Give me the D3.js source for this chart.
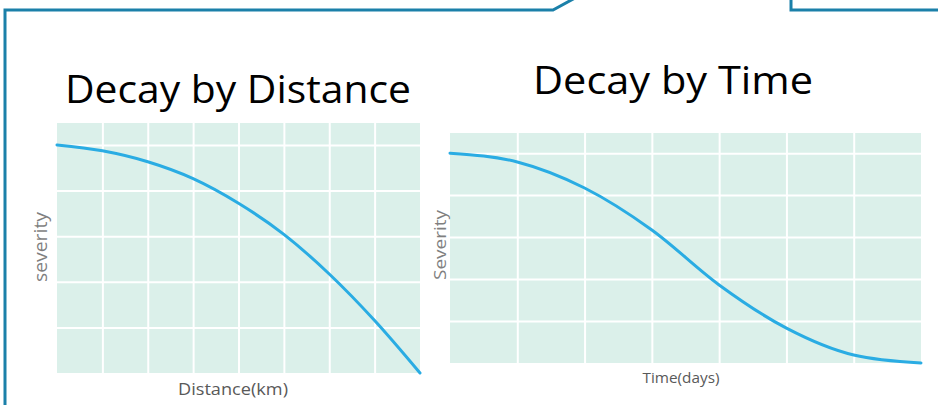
<!DOCTYPE html>
<html>
<head>
<meta charset="utf-8">
<script src="https://cdn.jsdelivr.net/npm/d3@7"></script>
<style>
  body { margin: 0; background: #fff; }
  svg { display: block; }
</style>
</head>
<body>
<script>
// distance panel: 8 grid columns, severity in grid-row units
const distanceX = [0, 1, 2, 3, 4, 5, 6, 7, 8];
const distanceSeverity = [5.0, 4.87, 4.63, 4.26, 3.72, 3.04, 2.17, 1.15, 0];

// time panel: 7 grid columns
const timeX = [0, 1, 2, 3, 4, 5, 6, 7];
const timeSeverity = [5.0, 4.79, 4.17, 3.17, 1.86, 0.83, 0.19, 0];

const titles = ['Decay by Distance', 'Decay by Time'];
const xLabels = ['Distance(km)', 'Time(days)'];
const yLabels = ['severity', 'Severity'];

const W = 938, H = 405;

const svg = d3.select('body').append('svg')
  .attr('width', W)
  .attr('height', H);

// callout frame
svg.append('path')
  .attr('d', 'M5,406 L5,10 L553,10 L575,-2 M791,-2 L791,10 L940,10')
  .attr('fill', 'none')
  .attr('stroke', '#1b80a9')
  .attr('stroke-width', 3);

const panels = [
  {
    xs: distanceX, ys: distanceSeverity,
    left: 57, right: 420, top: 123, bottom: 373, yMax: 5.48,
    title: titles[0], titleX: 238, titleY: 103, titleLen: 346,
    xLabel: xLabels[0], xLabelX: 233, xLabelY: 395, xLabelSize: 17, xLabelLen: 110,
    yLabel: yLabels[0], yLabelX: 47, yLabelY: 247, yLabelSize: 18, yLabelLen: 70
  },
  {
    xs: timeX, ys: timeSeverity,
    left: 450, right: 921, top: 133, bottom: 363, yMax: 5.48,
    title: titles[1], titleX: 673, titleY: 94, titleLen: 280,
    xLabel: xLabels[1], xLabelX: 681, xLabelY: 383, xLabelSize: 15, xLabelLen: 77,
    yLabel: yLabels[1], yLabelX: 446, yLabelY: 245, yLabelSize: 17, yLabelLen: 70
  }
];

panels.forEach(function(p) {
  const x = d3.scaleLinear()
    .domain([0, p.xs[p.xs.length - 1]])
    .range([p.left, p.right]);
  const y = d3.scaleLinear()
    .domain([0, p.yMax])
    .range([p.bottom, p.top]);

  const g = svg.append('g');

  g.append('rect')
    .attr('x', p.left)
    .attr('y', p.top)
    .attr('width', p.right - p.left)
    .attr('height', p.bottom - p.top)
    .attr('fill', '#dbf0ea');

  // white grid through the axes
  const nCols = p.xs[p.xs.length - 1];
  const xGrid = d3.axisBottom(x)
    .tickValues(d3.range(1, nCols))
    .tickSize(-(p.bottom - p.top))
    .tickFormat('');
  const yGrid = d3.axisLeft(y)
    .tickValues([1, 2, 3, 4, 5])
    .tickSize(-(p.right - p.left))
    .tickFormat('');

  g.append('g')
    .attr('transform', 'translate(0,' + p.bottom + ')')
    .call(xGrid)
    .call(function(a) { a.select('.domain').remove(); })
    .selectAll('line').attr('stroke', '#fff').attr('stroke-width', 2);

  g.append('g')
    .attr('transform', 'translate(' + p.left + ',0)')
    .call(yGrid)
    .call(function(a) { a.select('.domain').remove(); })
    .selectAll('line').attr('stroke', '#fff').attr('stroke-width', 2);

  const line = d3.line()
    .x(function(d, i) { return x(p.xs[i]); })
    .y(function(d) { return y(d); })
    .curve(d3.curveMonotoneX);

  g.append('path')
    .datum(p.ys)
    .attr('d', line)
    .attr('fill', 'none')
    .attr('stroke', '#2aace3')
    .attr('stroke-width', 3)
    .attr('stroke-linecap', 'round');

  g.append('text')
    .attr('x', p.titleX)
    .attr('y', p.titleY)
    .attr('text-anchor', 'middle')
    .attr('textLength', p.titleLen)
    .attr('lengthAdjust', 'spacingAndGlyphs')
    .style('font-family', 'Open Sans, sans-serif')
    .style('font-size', '38px')
    .attr('fill', '#000')
    .text(p.title);

  g.append('text')
    .attr('x', p.xLabelX)
    .attr('y', p.xLabelY)
    .attr('text-anchor', 'middle')
    .attr('textLength', p.xLabelLen)
    .attr('lengthAdjust', 'spacingAndGlyphs')
    .style('font-family', 'Open Sans, sans-serif')
    .style('font-size', p.xLabelSize + 'px')
    .attr('fill', '#595959')
    .text(p.xLabel);

  g.append('text')
    .attr('transform', 'translate(' + p.yLabelX + ',' + p.yLabelY + ') rotate(-90)')
    .attr('text-anchor', 'middle')
    .attr('textLength', p.yLabelLen)
    .attr('lengthAdjust', 'spacingAndGlyphs')
    .style('font-family', 'Open Sans, sans-serif')
    .style('font-size', p.yLabelSize + 'px')
    .attr('fill', '#7f7f7f')
    .text(p.yLabel);
});
</script>
</body>
</html>
